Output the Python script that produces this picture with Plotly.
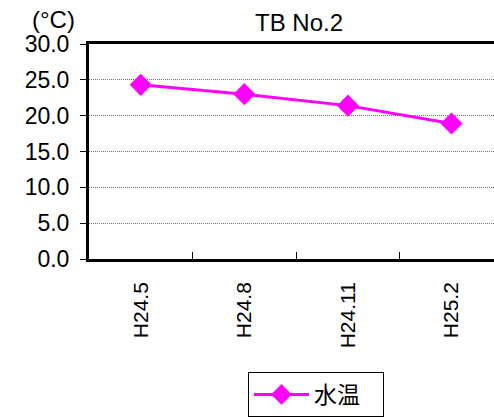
import plotly.graph_objects as go

# Water temperature survey at station TB No.2
periods = ["H24.5", "H24.8", "H24.11", "H25.2"]
water_temp = [24.3, 23.0, 21.4, 18.9]
y_ticks = [0, 5, 10, 15, 20, 25, 30]
y_tick_text = [f"{v:.1f}" for v in y_ticks]

fig = go.Figure()
fig.add_trace(go.Scatter(
    x=periods, y=water_temp, name="水温", mode="lines+markers",
    line=dict(color="#FF00FF", width=3),
    marker=dict(symbol="diamond", size=17, color="#FF00FF"),
))

fig.update_layout(
    width=494, height=417,
    margin=dict(l=89, r=0, t=44, b=157),
    paper_bgcolor="white", plot_bgcolor="white",
    font=dict(family="Liberation Sans, Arial, sans-serif", color="black"),
    title=dict(text="TB No.2", x=299 / 494, xanchor="center",
               y=1 - 23 / 417, yanchor="middle",
               font=dict(size=24, family="Liberation Sans, Arial")),
    showlegend=True,
    legend=dict(orientation="h", x=(316 - 89) / 405, xanchor="center",
                y=-0.528, yanchor="top",
                bordercolor="black", borderwidth=1,
                font=dict(size=23, family="Noto Sans CJK JP"),
                itemwidth=55, entrywidth=64, entrywidthmode="pixels"),
    xaxis=dict(type="category", range=[-0.5, 3.41],
               showline=True, linecolor="black", linewidth=2.5, mirror=True,
               ticks="inside", tickson="boundaries", ticklen=7, tickcolor="black", tickwidth=1,
               ticklabelstandoff=12,
               tickangle=-90, tickfont=dict(size=21), showgrid=False),
    yaxis=dict(range=[0, 30], tickvals=y_ticks, ticktext=y_tick_text,
               showline=True, linecolor="black", linewidth=3,
               ticks="outside", ticklen=6, tickcolor="black",
               ticklabelstandoff=6,
               tickfont=dict(size=23),
               showgrid=True, gridcolor="#707070", gridwidth=1, griddash="1px,1px",
               zeroline=False),
)

fig.add_annotation(text="(°C)", xref="paper", yref="paper",
                   x=(53 - 89) / 405, y=1 + 25 / 216, xanchor="center", yanchor="middle",
                   showarrow=False, font=dict(size=24, family="Liberation Sans, Arial"))

fig.write_html("out.html")
